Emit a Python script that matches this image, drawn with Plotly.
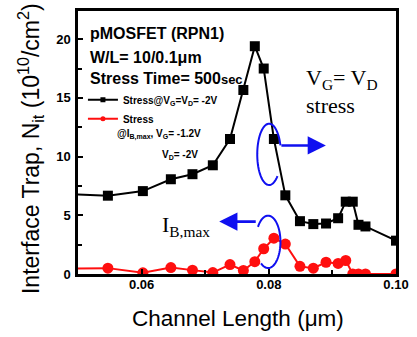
import numpy as np
import plotly.graph_objects as go

# ---------------- data ----------------
channel_length = [0.0490, 0.0547, 0.0602, 0.0646, 0.0680, 0.0712, 0.0739, 0.0760, 0.0778,
                  0.0792, 0.0808, 0.0826, 0.0849, 0.0870, 0.0890, 0.0909, 0.0921, 0.0932,
                  0.0941, 0.0952, 0.1000]
nit_vg_eq_vd = [6.8, 6.67, 7.06, 8.07, 8.5, 9.26, 11.5, 15.67, 19.4,
                17.5, 11.5, 6.7, 4.5, 4.25, 4.3, 4.75, 6.16, 6.16,
                4.19, 4.05, 2.84]
nit_ibmax = [0.45, 0.5, 0.1, 0.55, 0.33, 0.12, 0.8, 0.3, 1.05,
             2.15, 3.05, 2.55, 0.65, 0.5, 1.0, 0.9, 1.15, 0.0,
             0.0, 0.0, 0.0]
x_ticks = [0.06, 0.08, 0.10]
x_tick_labels = ["0.06", "0.08", "0.10"]
y_ticks = [0, 5, 10, 15, 20]
y_tick_labels = ["0", "5", "10", "15", "20"]

# ---------------- geometry ----------------
W, H = 417, 337
ML, MR, MT, MB = 78, 17, 8, 63
XR = [0.05, 0.10]
YR = [0, 22.4]
PW, PH = W - ML - MR, H - MT - MB


def px2x(px):
    return XR[0] + (px - ML) / PW * (XR[1] - XR[0])


def py2y(py):
    return YR[0] + (MT + PH - py) / PH * (YR[1] - YR[0])


def pxp(px):
    return (px - ML) / PW


def pyp(py):
    return (MT + PH - py) / PH


BLUE = "#1010f0"
RED = "#ff0f0f"

fig = go.Figure()
fig.add_trace(go.Scatter(x=channel_length, y=nit_vg_eq_vd, mode="lines+markers",
                         line=dict(color="black", width=2),
                         marker=dict(symbol="square", size=10, color="black"),
                         showlegend=False))
fig.add_trace(go.Scatter(x=channel_length, y=nit_ibmax, mode="lines+markers",
                         line=dict(color=RED, width=2),
                         marker=dict(symbol="circle", size=11, color=RED),
                         showlegend=False))
# legend-only entries (small legend markers as in original)
fig.add_trace(go.Scatter(x=[None], y=[None], mode="lines+markers",
                         name="Stress@V<sub>G</sub>=V<sub>D</sub>= -2V",
                         line=dict(color="black", width=2),
                         marker=dict(symbol="square", size=5, color="black")))
fig.add_trace(go.Scatter(x=[None], y=[None], mode="lines+markers",
                         name="Stress",
                         line=dict(color=RED, width=2),
                         marker=dict(symbol="circle", size=5, color=RED)))

axis_common = dict(showline=True, linecolor="black", linewidth=2.5, mirror=True,
                   ticks="inside", tickcolor="black", tickwidth=2, ticklen=5,
                   showgrid=False, zeroline=False,
                   tickfont=dict(family="Liberation Sans", size=13, color="black", weight="bold"))

fig.update_xaxes(range=XR, tickvals=x_ticks, ticktext=x_tick_labels,
                 minor=dict(tickvals=[0.05, 0.07, 0.09], ticks="inside", ticklen=4,
                            tickwidth=2, tickcolor="black"),
                 ticklabelstandoff=-3, **axis_common)
fig.update_yaxes(range=YR, tickvals=y_ticks, ticktext=y_tick_labels,
                 minor=dict(tickvals=[2.5, 7.5, 12.5, 17.5], ticks="inside", ticklen=4,
                            tickwidth=2, tickcolor="black"),
                 ticklabelstandoff=2, **axis_common)

annotations = []
# axis titles
annotations.append(dict(text="Channel Length (\u03bcm)", xref="paper", yref="paper",
                        x=pxp(240), y=pyp(319), showarrow=False,
                        xanchor="center", yanchor="middle",
                        font=dict(family="Liberation Sans", size=22.5, color="black")))
annotations.append(dict(text="Interface Trap, N<sub>it</sub> (10<sup>10</sup>/cm<sup>2</sup>)",
                        xref="paper", yref="paper", x=pxp(30), y=pyp(147), showarrow=False,
                        textangle=-90, xanchor="center", yanchor="middle",
                        font=dict(family="Liberation Sans", size=23, color="black")))
# header texts
hdr_font = dict(family="Liberation Sans", size=16, color="black", weight="bold")
for txt, yy in [("pMOSFET (RPN1)", 31), ("W/L= 10/0.1\u03bcm", 55),
                ("Stress Time= 500<span style='font-size:13px'>sec</span>", 76)]:
    annotations.append(dict(text=txt, xref="paper", yref="paper", x=pxp(88), y=pyp(yy),
                            showarrow=False, xanchor="left", yanchor="middle", font=hdr_font))
leg_font = dict(family="Liberation Sans", size=10, color="black", weight="bold")
annotations.append(dict(text="@I<sub>B,max</sub>, V<sub>G</sub>= -1.2V", xref="paper", yref="paper",
                        x=pxp(115), y=pyp(133), showarrow=False, xanchor="left", yanchor="middle",
                        font=leg_font))
annotations.append(dict(text="V<sub>D</sub>= -2V", xref="paper", yref="paper",
                        x=pxp(161), y=pyp(154), showarrow=False, xanchor="left", yanchor="middle",
                        font=leg_font))
# serif labels
serif = dict(family="Liberation Serif", size=22, color="black")
annotations.append(dict(text="V<sub>G</sub>= V<sub>D</sub>", xref="paper", yref="paper",
                        x=pxp(307), y=pyp(77), showarrow=False, xanchor="left", yanchor="middle",
                        font=serif))
annotations.append(dict(text="stress", xref="paper", yref="paper",
                        x=pxp(307), y=pyp(104), showarrow=False, xanchor="left", yanchor="middle",
                        font=serif))
annotations.append(dict(text="I<sub>B,max</sub>", xref="paper", yref="paper",
                        x=pxp(161), y=pyp(225), showarrow=False, xanchor="left", yanchor="middle",
                        font=serif))
# blue arrows
annotations.append(dict(x=px2x(329), y=py2y(144), xref="x", yref="y", ax=-46, ay=0,
                        showarrow=True, arrowhead=2, arrowsize=1.4, arrowwidth=2.6,
                        arrowcolor=BLUE, text=""))
annotations.append(dict(x=px2x(221), y=py2y(221), xref="x", yref="y", ax=38, ay=0,
                        showarrow=True, arrowhead=2, arrowsize=1.4, arrowwidth=2.6,
                        arrowcolor=BLUE, text=""))


def arc_path(cx, cy, rx, ry, a0, a1, n=60):
    t = np.radians(np.linspace(a0, a1, n))
    pts = [(px2x(cx + rx * np.cos(a)), py2y(cy - ry * np.sin(a))) for a in t]
    return "M " + " L ".join(f"{x:.6f},{y:.4f}" for x, y in pts)


shapes = [
    dict(type="path", xref="x", yref="y", path=arc_path(271.5, 153, 12, 31, 17, 315),
         line=dict(color=BLUE, width=2)),
    dict(type="path", xref="x", yref="y", path=arc_path(270.5, 241.5, 12.5, 26.5, 145, -125),
         line=dict(color=BLUE, width=2)),
]

fig.update_layout(width=W, height=H, margin=dict(l=ML, r=MR, t=MT, b=MB),
                  paper_bgcolor="white", plot_bgcolor="white",
                  annotations=annotations, shapes=shapes,
                  legend=dict(x=pxp(83), y=pyp(83), xanchor="left", yanchor="top",
                              bgcolor="rgba(0,0,0,0)", font=leg_font,
                              tracegroupgap=0, itemwidth=30))

fig.write_html("out.html")
